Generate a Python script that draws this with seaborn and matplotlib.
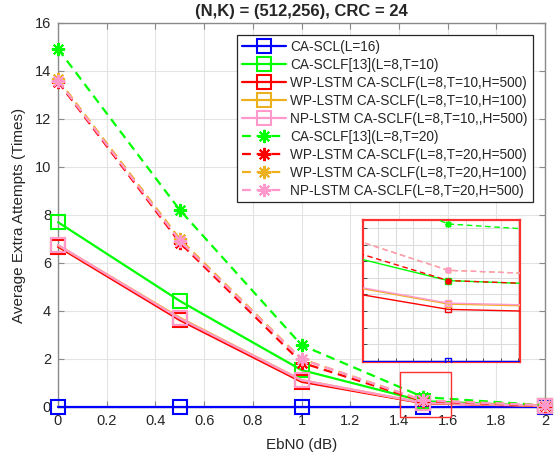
import numpy as np
import pandas as pd
import matplotlib
matplotlib.use("Agg")
import matplotlib.pyplot as plt
from matplotlib.patches import Rectangle
from matplotlib.ticker import MultipleLocator
import seaborn as sns

# ---------------- data ----------------
ebn0 = [0.0, 0.5, 1.0, 1.5, 2.0]
xtick_vals = [0, 0.2, 0.4, 0.6, 0.8, 1.0, 1.2, 1.4, 1.6, 1.8, 2.0]
xtick_labels = ["0", "0.2", "0.4", "0.6", "0.8", "1", "1.2", "1.4", "1.6", "1.8", "2"]
ytick_vals = [0, 2, 4, 6, 8, 10, 12, 14, 16]

ca_scl_l16 = [0.0, 0.0, 0.0, 0.0, 0.0]
ca_sclf_t10 = [7.70, 4.42, 1.54, 0.242, 0.04]
wp_t10_h500 = [6.68, 3.62, 1.05, 0.155, 0.035]
wp_t10_h100 = [6.74, 3.72, 1.12, 0.171, 0.05]
np_t10_h500 = [6.75, 3.69, 1.12, 0.174, 0.05]
ca_sclf_t20 = [14.92, 8.21, 2.58, 0.413, 0.07]
wp_t20_h500 = [13.55, 6.85, 1.85, 0.242, 0.05]
wp_t20_h100 = [13.65, 7.00, 2.00, 0.273, 0.07]
np_t20_h500 = [13.60, 6.93, 1.99, 0.273, 0.07]

labels = [
    "CA-SCL(L=16)",
    "CA-SCLF[13](L=8,T=10)",
    "WP-LSTM CA-SCLF(L=8,T=10,H=500)",
    "WP-LSTM CA-SCLF(L=8,T=10,H=100)",
    "NP-LSTM CA-SCLF(L=8,T=10,,H=500)",
    "CA-SCLF[13](L=8,T=20)",
    "WP-LSTM CA-SCLF(L=8,T=20,H=500)",
    "WP-LSTM CA-SCLF(L=8,T=20,H=100)",
    "NP-LSTM CA-SCLF(L=8,T=20,H=500)",
]
series = [ca_scl_l16, ca_sclf_t10, wp_t10_h500, wp_t10_h100, np_t10_h500,
          ca_sclf_t20, wp_t20_h500, wp_t20_h100, np_t20_h500]

title = "(N,K) = (512,256), CRC = 24"
xlabel = "EbN0 (dB)"
ylabel = "Average Extra Attempts (Times)"

# ---------------- style ----------------
BLUE, GREEN, RED, ORANGE, PINK = "#0000FF", "#00FF00", "#FF0000", "#EDB120", "#FF99CC"
colors = [BLUE, GREEN, RED, ORANGE, PINK, GREEN, RED, ORANGE, PINK]
ASTER = (8, 2, 0)
markers = ["s"] * 5 + [ASTER] * 4
dash = (0, (4, 2.6))
styles = ["-"] * 5 + [dash] * 4

sns.set_theme(style="whitegrid")
plt.rcParams["font.family"] = ["Liberation Sans", "DejaVu Sans"]
plt.rcParams["axes.edgecolor"] = "#8a8a8a"
plt.rcParams["grid.color"] = "#e3e3e3"

fig = plt.figure(figsize=(5.58, 4.57), dpi=100)
ax = fig.add_axes([58 / 558, (457 - 407) / 457, 487 / 558, 384 / 457])
ax.set_facecolor("white")

for vals, lab, c, m, ls in zip(series, labels, colors, markers, styles):
    df = pd.DataFrame({"x": ebn0, "y": vals})
    sns.lineplot(data=df, x="x", y="y", ax=ax, color=c, marker=m, linestyle=ls,
                 linewidth=1.6, markersize=9.5, markeredgewidth=1.5,
                 markerfacecolor="none", markeredgecolor=c, label=lab,
                 clip_on=False, zorder=3)

ax.set_xlim(0, 2)
ax.set_ylim(0, 16)
ax.set_xticks(xtick_vals)
ax.set_xticklabels(xtick_labels)
ax.set_yticks(ytick_vals)
ax.set_yticklabels([str(v) for v in ytick_vals])
ax.tick_params(axis="both", which="both", direction="in", length=4, width=0.8,
               colors="#8a8a8a", labelcolor="#262626", labelsize=10.5,
               top=True, right=True, bottom=True, left=True, pad=5)
for s in ax.spines.values():
    s.set_visible(True)
    s.set_color("#8a8a8a")
    s.set_linewidth(1.0)
ax.grid(True, color="#e3e3e3", linewidth=0.8)
ax.set_xlabel(xlabel, fontsize=11, color="#262626", labelpad=7)
ax.set_ylabel(ylabel, fontsize=11, color="#262626", labelpad=6)
ax.set_title(title, fontsize=12, fontweight="bold", color="#262626", pad=5)

leg = ax.legend(loc="upper right", bbox_to_anchor=((532.7 - 58) / 487, (407 - 35.3) / 384),
                borderaxespad=0, fontsize=9.8, frameon=True, fancybox=False,
                framealpha=1, edgecolor="#262626", handlelength=3.2,
                handletextpad=0.35, labelspacing=0.29, borderpad=0.35,
                numpoints=1)
leg.get_frame().set_linewidth(0.9)
leg.set_zorder(10)

# zoom-region rectangle on main axes
ax.add_patch(Rectangle((1.405, -0.43), 0.208, 1.90, fill=False, edgecolor="#FF3030",
                       linewidth=1.0, clip_on=False, zorder=6))

# ---------------- inset ----------------
axin = fig.add_axes([363.3 / 558, (457 - 361.7) / 457, 156.7 / 558, 141.7 / 457])
axin.set_facecolor("white")
for vals, c, m, ls in zip(series, colors, markers, styles):
    df = pd.DataFrame({"x": ebn0, "y": vals})
    sns.lineplot(data=df, x="x", y="y", ax=axin, color=c, marker=m, linestyle=ls,
                 linewidth=1.0, markersize=5, markeredgewidth=1.0,
                 markerfacecolor="none", markeredgecolor=c, legend=False, zorder=3)
axin.set_xlim(1.4757, 1.5205)
axin.set_ylim(-0.003, 0.425)
axin.xaxis.set_major_locator(MultipleLocator(0.005))
axin.yaxis.set_major_locator(MultipleLocator(0.05))
axin.set_xticklabels([])
axin.set_yticklabels([])
axin.set_xlabel("")
axin.set_ylabel("")
axin.tick_params(axis="both", direction="in", length=3, width=0.7, colors="#444444",
                 top=False, right=False, bottom=True, left=True)
axin.grid(True, color="#dcdcdc", linewidth=0.8)
for s in axin.spines.values():
    s.set_visible(True)
    s.set_color("#FF3030")
    s.set_linewidth(1.6)

fig.savefig("out.png", dpi=100)
